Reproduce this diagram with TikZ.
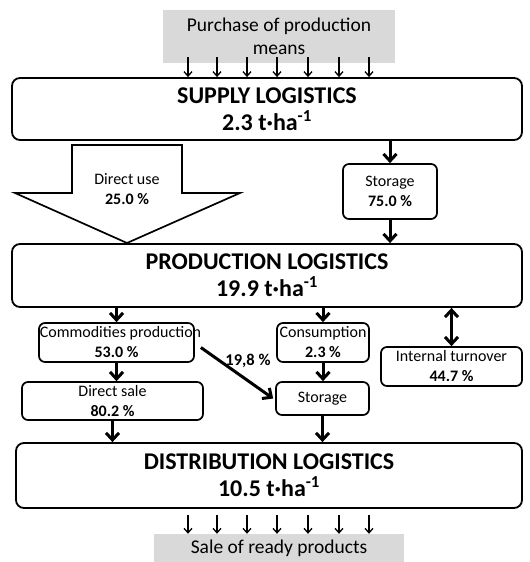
\documentclass[tikz,border=0pt]{standalone}
\usepackage{fontspec}
\setmainfont{Carlito}
\usetikzlibrary{arrows.meta}
\definecolor{greybox}{HTML}{D9D9D9}
\tikzset{
  mainbox/.style={draw, line width=1.8bp, rounded corners=8bp, inner sep=0pt, align=center,
    font=\fontsize{24bp}{27bp}\selectfont\bfseries},
  subbox/.style={draw, line width=1.7bp, rounded corners=6bp, inner sep=0pt, align=center,
    font=\fontsize{16bp}{20bp}\selectfont},
  greyfield/.style={fill=greybox, draw=none, inner sep=0pt, align=center,
    font=\fontsize{19.5bp}{23bp}\selectfont},
  flow/.style={line width=3bp, -{Straight Barb[length=7bp,width=13bp,line width=3bp]}},
  flowboth/.style={line width=3bp, {Straight Barb[length=7bp,width=13bp,line width=3bp]}-{Straight Barb[length=7bp,width=13bp,line width=3bp]}},
  thin/.style={line width=1.3bp, -{Straight Barb[length=4.5bp,width=8bp,line width=1.3bp]}},
  lbl/.style={inner sep=0pt, font=\fontsize{16.5bp}{20bp}\selectfont\bfseries}
}
\begin{document}
\begin{tikzpicture}[x=1bp,y=-1bp]
\useasboundingbox (0,0) rectangle (530,562);
% grey fields
\node[greyfield, minimum width=232bp, minimum height=53bp] (purchase) at (279,36.5) {Purchase of production\\means};
\node[greyfield, minimum width=250bp, minimum height=28bp] (sale) at (279,548) {Sale of ready products};
% main boxes
\node[mainbox, minimum width=510bp, minimum height=62bp] (supply) at (267,109) {SUPPLY LOGISTICS\\2.3 t·ha\textsuperscript{-1}};
\node[mainbox, minimum width=510bp, minimum height=63bp] (prod) at (267,275.5) {PRODUCTION LOGISTICS\\19.9 t·ha\textsuperscript{-1}};
\node[mainbox, minimum width=506bp, minimum height=65bp] (dist) at (269,475.5) {DISTRIBUTION LOGISTICS\\10.5 t·ha\textsuperscript{-1}};
% sub boxes
\node[subbox, minimum width=94bp, minimum height=55bp] (stor1) at (390,191.5) {Storage\\\textbf{75.0 \%}};
\node[subbox, minimum width=155bp, minimum height=39bp] (comm) at (116.5,342.5) {\makebox[0pt]{\hspace{8bp}Commodities production}\\\textbf{53.0 \%}};
\node[subbox, minimum width=92bp, minimum height=39bp] (cons) at (323,342.5) {Consumption\\\textbf{2.3 \%}};
\node[subbox, minimum width=141bp, minimum height=39bp] (intt) at (451.5,366.5) {Internal turnover\\\textbf{44.7 \%}};
\node[subbox, minimum width=181bp, minimum height=38bp] (dsale) at (112.5,401) {Direct sale\\\textbf{80.2 \%}};
\node[subbox, minimum width=93bp, minimum height=33bp] (stor2) at (322.5,398.5) {Storage};
% big block arrow (direct use)
\draw[line width=1.7bp, fill=white] (72,145) -- (182,145) -- (182,193) -- (240,193) -- (127,243) -- (15,193) -- (72,193) -- cycle;
\node[inner sep=0pt, align=center, font=\fontsize{16bp}{20bp}\selectfont] (duse) at (127,189) {Direct use\\\textbf{25.0 \%}};
% thin arrows
\foreach \x in {188,217,247,277,308,339,369}{
  \draw[thin] (\x,57) -- (\x,0 |- supply.north);
  \draw[thin] (\x,0 |- dist.south) ++(0,6) -- (\x,0 |- sale.north);
}
% thick flows
\draw[flow] (stor1.north |- supply.south) -- (stor1.north);
\draw[flow] (stor1.south) -- (stor1.south |- prod.north);
\draw[flow] (comm.north |- prod.south) -- (comm.north);
\draw[flow] (cons.north |- prod.south) -- (cons.north);
\draw[flowboth] (intt.north |- prod.south) -- (intt.north);
\draw[flow] (comm.south) -- (comm.south |- dsale.north);
\draw[flow] (dsale.south) -- (dsale.south |- dist.north);
\draw[flow] (cons.south) -- (cons.south |- stor2.north);
\draw[flow] (stor2.south) -- (stor2.south |- dist.north);
\draw[flow] ([xshift=6bp,yshift=-5bp]comm.east) -- ([xshift=-2bp]stor2.west);
\node[lbl] (pct) at (248,361) {19,8 \%};
\end{tikzpicture}
\end{document}
